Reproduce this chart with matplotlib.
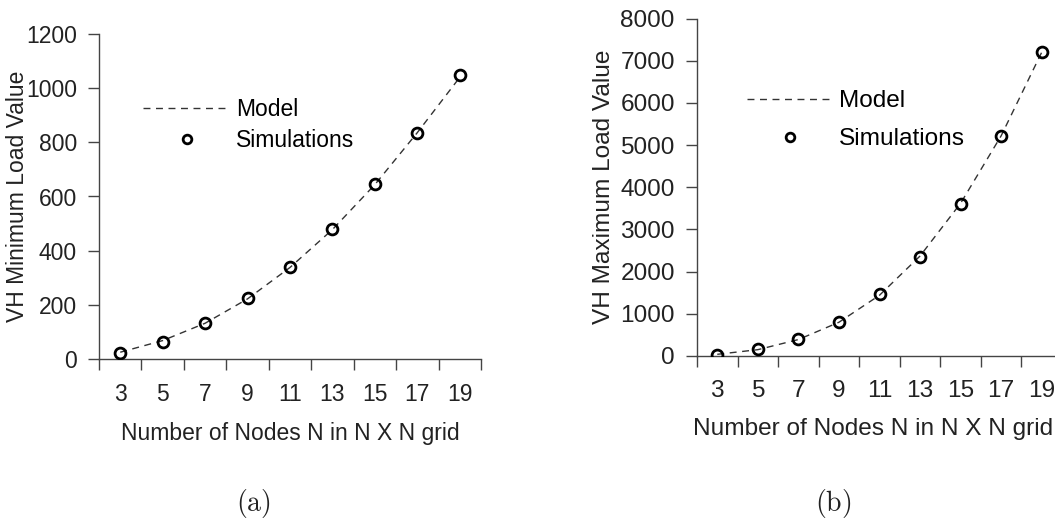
import matplotlib.pyplot as plt
import numpy as np

plt.rcParams['font.family'] = ['Liberation Sans', 'DejaVu Sans']
plt.rcParams['mathtext.fontset'] = 'cm'

# grid sizes N (N x N)
nodes = [3, 5, 7, 9, 11, 13, 15, 17, 19]

# (a) minimum load
min_sim = [21, 64, 132, 226, 341, 480, 646, 834, 1047]
min_model = [25, 68, 132, 222, 338, 478, 644, 836, 1040]

# (b) maximum load
max_sim = [30, 159, 396, 806, 1463, 2357, 3597, 5210, 7209]
max_model = [40, 150, 390, 800, 1440, 2370, 3620, 5220, 7200]

INK = '#222222'


def draw_panel(fig, rect, model, sim, ylim, ystep, ylabel, caption, cap_x,
               leg_anchor, font, ylabelpad, handlelen, rowgap):
    ax = fig.add_axes(rect)
    x = np.arange(len(nodes))
    ax.plot(x, model, color='#333333', lw=1.0, dashes=(5, 4), label='Model')
    ax.plot(x, sim, ls='none', marker='o', ms=7.8, mfc='none', mec='black',
            mew=2.0, label='Simulations')

    ax.set_xlim(-0.5, len(nodes) - 0.5)
    ax.set_ylim(0, ylim)
    ax.set_yticks(np.arange(0, ylim + 1, ystep))

    # tick marks sit between categories, labels under each category
    ax.set_xticks(np.arange(-0.5, len(nodes)), labels=[''] * (len(nodes) + 1))
    ax.set_xticks(x, labels=[str(n) for n in nodes], minor=True)
    ax.tick_params(axis='x', which='major', direction='out', length=8,
                   width=1, color='#444444')
    ax.tick_params(axis='x', which='minor', length=0, pad=17,
                   labelsize=font, labelcolor=INK)
    ax.tick_params(axis='y', direction='out', length=8, width=1,
                   color='#444444', labelsize=font, labelcolor=INK, pad=8)

    for side in ('top', 'right'):
        ax.spines[side].set_visible(False)
    for side in ('left', 'bottom'):
        ax.spines[side].set_color('#444444')
        ax.spines[side].set_linewidth(1.0)
    ax.spines['bottom'].set_zorder(0)

    xl = ax.set_xlabel('Number of Nodes N in N X N grid', fontsize=font,
                       color=INK, labelpad=12)
    ax.set_ylabel(ylabel, fontsize=font, color=INK, labelpad=ylabelpad)

    ax.legend(loc='upper left', bbox_to_anchor=leg_anchor,
              bbox_transform=fig.transFigure, frameon=False, fontsize=font,
              handlelength=handlelen, handletextpad=0.25,
              labelspacing=rowgap, borderpad=0, borderaxespad=0,
              numpoints=1, markerscale=0.8)

    fig.text(cap_x, 1 - 503 / 523, r'$\mathrm{(%s)}$' % caption,
             fontsize=20, ha='center', va='center', color=INK)
    return ax, xl


fig = plt.figure(figsize=(10.55, 5.23), dpi=100)

draw_panel(fig, [99 / 1055, 1 - 359 / 523, 382 / 1055, 325 / 523],
           min_model, min_sim, 1200, 200, 'VH Minimum Load Value', 'a',
           253 / 1055, (143 / 1055, 1 - 98 / 523), 16.5, -2, 3.8, 0.35)

ax_b, xl_b = draw_panel(fig, [697 / 1055, 1 - 356 / 523, 365 / 1055, 337.5 / 523],
                        max_model, max_sim, 8000, 1000,
                        'VH Maximum Load Value', 'b', 833 / 1055,
                        (747 / 1055, 1 - 90 / 523), 17.6, 4, 3.5, 0.65)
# keep the right panel's axis title inside the canvas
xl_b.set_horizontalalignment('right')
xl_b.set_x((1053 - 697) / 365)

fig.savefig('out.png', dpi=100)
